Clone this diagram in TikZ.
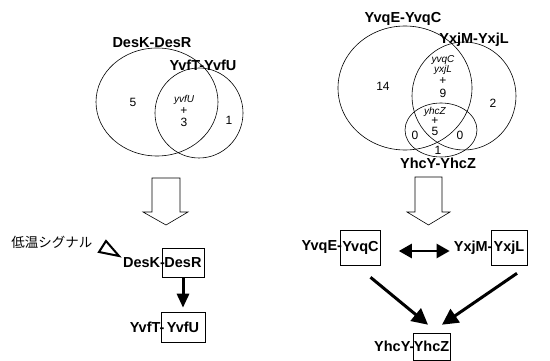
\documentclass[tikz,border=0pt]{standalone}
\usepackage{fontspec}
\setmainfont{Liberation Sans}
\newfontfamily\jpfont{Noto Sans CJK JP}
\usetikzlibrary{arrows.meta,calc}
\begin{document}
\begin{tikzpicture}[x=1pt,y=-1pt,
  lbl/.style={font=\fontsize{14.5}{16}\selectfont\bfseries, inner sep=0pt},
  num/.style={font=\fontsize{12}{14}\selectfont, inner sep=0pt},
  gene/.style={font=\fontsize{10}{12}\selectfont\itshape, inner sep=0pt},
  venn/.style={draw, line width=0.6pt},
  gbox/.style={draw, line width=0.6pt, font=\fontsize{14.5}{16}\selectfont\bfseries, inner sep=0pt},
  hollow/.style={draw, line width=0.6pt, fill=white, line join=miter},
  sigarrow/.style={-{Triangle[length=14pt,width=12pt]}, line width=3pt},
  dblarrow/.style={{Triangle[length=13pt,width=14pt]}-{Triangle[length=13pt,width=14pt]}, line width=2.5pt},
  diagarrow/.style={-{Triangle[length=16pt,width=16pt]}, line width=3pt}
]
\useasboundingbox (0,0) rectangle (550,361);

% ---------- left Venn ----------
\draw[venn] (157,102) ellipse [x radius=61, y radius=54];
\draw[venn] (199,113) ellipse [x radius=44, y radius=45];
\node[lbl] (vdesk) at (152,43) {DesK-DesR};
\node[lbl] (vyvft) at (203,65) {YvfT-YvfU};
\node[num] (n5) at (133,102) {5};
\node[gene] (gyvfu) at (184,100) {yvfU};
\node[num] (p1) at (184,111) {+};
\node[num] (n3) at (184,122) {3};
\node[num] (n1) at (229,120) {1};

% ---------- right Venn ----------
\draw[venn] (405,88) ellipse [x radius=67, y radius=62];
\draw[venn] (464,96) ellipse [x radius=52, y radius=54];
\draw[venn] (441,130) ellipse [x radius=36, y radius=27];
\node[lbl] (vyvqe) at (403,19) {YvqE-YvqC};
\node[lbl] (vyxjm) at (474,40) {YxjM-YxjL};
\node[lbl] (vyhcy) at (438,163) {YhcY-YhcZ};
\node[num] (n14) at (383,86) {14};
\node[gene] (gyvqc) at (443,60) {yvqC};
\node[gene] (gyxjl) at (443,70) {yxjL};
\node[num] (p2) at (443,81) {+};
\node[num] (n9) at (443,93) {9};
\node[num] (n2) at (493,103) {2};
\node[gene] (gyhcz) at (435,111.5) {yhcZ};
\node[num] (p3) at (435,121) {+};
\node[num] (n5b) at (435,131) {5};
\node[num] (n0a) at (415,135) {0};
\node[num] (n0b) at (460,135) {0};
\node[num] (n1b) at (438,150) {1};

% ---------- hollow arrows ----------
\draw[hollow] (152,178) -- (180,178) -- (180,212) -- (188,212) -- (166,225) -- (143,212) -- (152,212) -- cycle;
\draw[hollow] (415,177) -- (442,177) -- (442,212) -- (450,212) -- (428.5,225) -- (407,212) -- (415,212) -- cycle;

% ---------- left network ----------
\node[font=\jpfont\fontsize{13.5}{15}\selectfont, inner sep=0pt] (signal) at (52,242) {低温シグナル};
\draw[line width=2pt, line join=miter] (106,241) -- (99,252) -- (119,256) -- cycle;
\node[gbox, minimum width=42pt, minimum height=29pt] (desr) at (183,262.5) {DesR};
\node[lbl, anchor=east] (desk) at ($(desr.west)+(3.5,0)$) {DesK-};
\node[gbox, minimum width=44pt, minimum height=30pt] (yvfu) at (183,327) {YvfU};
\node[lbl, anchor=east] (yvft) at ($(yvfu.west)+(4,0)$) {YvfT-};
\draw[sigarrow] ($(desr.south)+(0,1)$) -- ($(yvfu.north)+(0,-4)$);

% ---------- right network ----------
\node[gbox, minimum width=40pt, minimum height=35pt] (yvqc) at (360.5,247.5) {YvqC};
\node[lbl, anchor=east] (yvqe) at ($(yvqc.west)+(2,0)$) {YvqE-};
\node[gbox, minimum width=36pt, minimum height=35pt] (yxjl) at (509,247.5) {YxjL};
\node[lbl, anchor=east] (yxjm) at ($(yxjl.west)+(2,0)$) {YxjM-};
\node[gbox, minimum width=37pt, minimum height=27pt] (yhcz) at (431.5,346.5) {YhcZ};
\node[lbl, anchor=east] (yhcy) at ($(yhcz.west)+(2,0)$) {YhcY-};
\draw[dblarrow] ($(yvqc.east)+(18,3.5)$) -- ($(yxjm.west)+(-4,3.5)$);
\draw[diagarrow] ($(yvqc.south)+(10,12)$) -- ($(yhcz.north)+(-3.5,-8)$);
\draw[diagarrow] ($(yxjl.south)+(8,8)$) -- ($(yhcz.north)+(10.5,-8)$);
\end{tikzpicture}
\end{document}
